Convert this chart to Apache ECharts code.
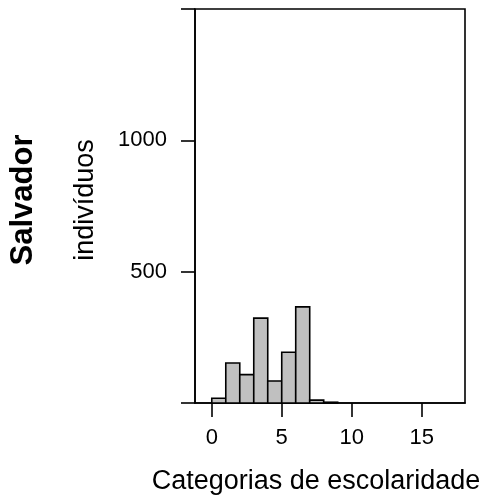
<!DOCTYPE html>
<html>
<head>
<meta charset="utf-8">
<script src="https://cdn.jsdelivr.net/npm/echarts@6/dist/echarts.min.js"></script>
<style>
html,body{margin:0;padding:0;background:#fff;}
#chart{width:485px;height:499px;}
</style>
</head>
<body>
<div id="chart"></div>
<script>
// Histogram bins (start of each unit-wide bin) and counts
var binStarts = [0, 1, 2, 3, 4, 5, 6, 7, 8];
var counts = [18, 152, 108, 323, 84, 193, 366, 11, 3];
var xTicks = [0, 5, 10, 15];
var yTicks = [0, 500, 1000, 1500];
var yLabels = [500, 1000];
var xTitle = 'Categorias de escolaridade';
var yTitle = 'indivíduos';
var panelTitle = 'Salvador';

var data = binStarts.map(function (s, i) { return [s, s + 1, counts[i]]; });
var FONT = '"Liberation Sans", Arial, sans-serif';

var chart = echarts.init(document.getElementById('chart'), null, {renderer: 'canvas'});
chart.setOption({
  animation: false,
  backgroundColor: '#fff',
  grid: {left: 195, top: 9, width: 270, height: 394, show: true, borderColor: '#000', borderWidth: 1.6, backgroundColor: 'transparent'},
  xAxis: {
    type: 'value', min: -1.2, max: 18.1,
    splitLine: {show: false},
    axisLine: {show: true, onZero: false, lineStyle: {color: '#000', width: 1.6}},
    axisTick: {show: true, inside: false, customValues: xTicks, length: 14, lineStyle: {color: '#000', width: 1.6}},
    axisLabel: {customValues: xTicks, fontSize: 22, color: '#000', fontFamily: FONT, margin: 24,
      formatter: function (v) { return String(v); }}
  },
  yAxis: {
    type: 'value', min: 0, max: 1500,
    splitLine: {show: false},
    axisLine: {show: true, onZero: false, lineStyle: {color: '#000', width: 1.6}},
    axisTick: {show: true, inside: false, customValues: yTicks, length: 14, lineStyle: {color: '#000', width: 1.6}},
    axisLabel: {customValues: yLabels, fontSize: 22, color: '#000', fontFamily: FONT, margin: 28,
      formatter: function (v) { return String(v); }}
  },
  graphic: [
    {type: 'text', x: 316, y: 482, style: {text: xTitle, font: '27px ' + FONT, fill: '#000', textAlign: 'center', textVerticalAlign: 'middle'}},
    {type: 'text', x: 86, y: 200, rotation: Math.PI / 2, style: {text: yTitle, font: '27px ' + FONT, fill: '#000', textAlign: 'center', textVerticalAlign: 'middle'}},
    {type: 'text', x: 23, y: 200, rotation: Math.PI / 2, style: {text: panelTitle, font: 'bold 31px ' + FONT, fill: '#000', textAlign: 'center', textVerticalAlign: 'middle'}}
  ],
  series: [{
    type: 'custom',
    data: data,
    renderItem: function (params, api) {
      var p0 = api.coord([api.value(0), 0]);
      var p1 = api.coord([api.value(1), api.value(2)]);
      return {
        type: 'rect',
        shape: {x: p0[0], y: p1[1], width: p1[0] - p0[0], height: p0[1] - p1[1]},
        style: {fill: '#c0c0c0', stroke: '#000', lineWidth: 1.6}
      };
    }
  }]
});
</script>
</body>
</html>
